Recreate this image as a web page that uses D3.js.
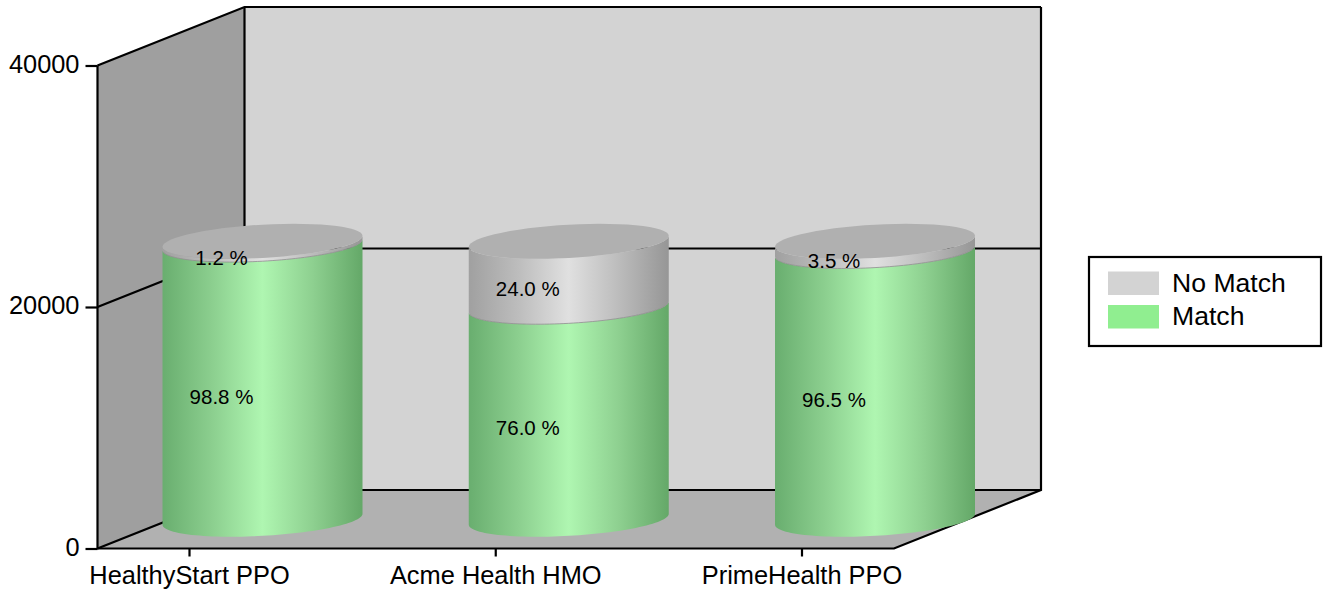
<!DOCTYPE html>
<html lang="en">

<head>
	<meta charset="utf-8">
	<title>Match by plan</title>

	<style type="text/css">
		html, body {
			margin: 0;
			background: #fff;
		}

		svg {
			display: block;
		}

		text {
			font-family: "Liberation Sans", Arial, sans-serif;
			fill: #000;
		}
	</style>
</head>

<body>
	<div id="content"></div>

	<script src="https://cdnjs.cloudflare.com/ajax/libs/d3/7.8.5/d3.min.js"></script>

	<script type="text/javascript">
		var plans = ["HealthyStart PPO", "Acme Health HMO", "PrimeHealth PPO"];
		var matchValues = [22745, 17600, 22215];
		var noMatchValues = [275, 5420, 805];
		var matchLabels = ["98.8 %", "76.0 %", "96.5 %"];
		var noMatchLabels = ["1.2 %", "24.0 %", "3.5 %"];
		var yTicks = [0, 20000, 40000];
		var legendNames = ["No Match", "Match"];

		var w = 1323, h = 594;

		// the box is drawn as an oblique projection, depth moves up and to the right
		var depthX = 147, depthY = -58.5;
		var left = 97.5, right = 894;
		var radius = 100, tilt = 5.5, squash = 16.6;

		var svg = d3.select("#content").append("svg")
			.attr("width", w)
			.attr("height", h);

		var y = d3.scaleLinear().domain([0, 40000]).range([548.5, 65.5]);
		var x = d3.scalePoint().domain(plans).range([189, 801.5]);

		// gradients for the cylinder sides
		var defs = svg.append("defs");

		function addGradient(id, stops) {
			var g = defs.append("linearGradient").attr("id", id);
			stops.forEach(function (s) {
				g.append("stop").attr("offset", s[0]).attr("stop-color", s[1]);
			});
		}

		addGradient("greenSide", [[0, "#69ae6f"], [0.25, "#8ccf8f"], [0.5, "#aff6b1"], [0.75, "#8ed090"], [1, "#64a868"]]);
		addGradient("graySide", [[0, "#a0a0a0"], [0.25, "#bdbdbd"], [0.5, "#e0e0e0"], [0.75, "#bcbcbc"], [1, "#969696"]]);

		// walls and floor
		var top40 = y(40000), base = y(0);
		var poly = d3.line();

		svg.append("path")
			.attr("d", poly([[left, top40], [left + depthX, top40 + depthY], [left + depthX, base + depthY], [left, base]]) + "Z")
			.attr("fill", "#9f9f9f");

		svg.append("path")
			.attr("d", poly([[left, base], [right, base], [right + depthX, base + depthY], [left + depthX, base + depthY]]) + "Z")
			.attr("fill", "#b1b1b1");

		svg.append("rect")
			.attr("x", left + depthX)
			.attr("y", top40 + depthY)
			.attr("width", right - left)
			.attr("height", base - top40)
			.attr("fill", "#d3d3d3");

		// grid lines run across the left wall and the back wall
		var grid = svg.append("g")
			.attr("fill", "none")
			.attr("stroke", "#000")
			.attr("stroke-width", 2.2);

		yTicks.forEach(function (t) {
			grid.append("path")
				.attr("d", poly([[left, y(t)], [left + depthX, y(t) + depthY], [right + depthX, y(t) + depthY]]));
		});

		grid.append("path")
			.attr("d", poly([[left, top40], [left, base], [right, base], [right + depthX, base + depthY], [right + depthX, top40 + depthY]]));
		grid.append("path")
			.attr("d", poly([[left + depthX, top40 + depthY], [left + depthX, base + depthY]]));

		// axes
		var yAxis = d3.axisLeft(y)
			.tickValues(yTicks)
			.tickFormat(d3.format("d"))
			.tickSize(12)
			.tickPadding(6);

		var xAxis = d3.axisBottom(x)
			.tickSize(8)
			.tickPadding(9);

		function styleAxis(g) {
			g.select(".domain").remove();
			g.selectAll("line").attr("stroke", "#000").attr("stroke-width", 2.2);
			g.selectAll("text").style("font-size", "25.4px").style("font-family", null);
		}

		svg.append("g")
			.attr("transform", "translate(" + left + ",0)")
			.call(yAxis)
			.call(styleAxis)
			.selectAll("text")
			.attr("dy", "0.27em");

		svg.append("g")
			.attr("transform", "translate(0," + base + ")")
			.call(xAxis)
			.call(styleAxis);

		// cylinders
		function ring(cx, cy, from, to) {
			return d3.range(0, 61).map(function (i) {
				var t = from + (to - from) * i / 60;
				return [cx + radius * Math.cos(t), cy - tilt * Math.cos(t) + squash * Math.sin(t)];
			});
		}

		function side(cx, y0, y1) {
			// front half of the lower ring, then back along the front of the upper ring
			return poly(ring(cx, y0, Math.PI, 0).concat(ring(cx, y1, 0, Math.PI))) + "Z";
		}

		var cylinders = svg.append("g");
		var labels = svg.append("g")
			.attr("text-anchor", "middle")
			.style("font-size", "20.5px");

		plans.forEach(function (plan, i) {
			var cx = x(plan) + depthX / 2;
			var y0 = y(0) + depthY / 2;
			var y1 = y(matchValues[i]) + depthY / 2;
			var y2 = y(matchValues[i] + noMatchValues[i]) + depthY / 2;

			cylinders.append("path")
				.attr("d", side(cx, y0, y1))
				.attr("fill", "url(#greenSide)");

			cylinders.append("path")
				.attr("d", side(cx, y1, y2))
				.attr("fill", "url(#graySide)");

			// thin darker edge where the two segments meet
			cylinders.append("path")
				.attr("d", poly(ring(cx, y1, 0.12, Math.PI - 0.12)))
				.attr("fill", "none")
				.attr("stroke", "#8f8f8f")
				.attr("stroke-width", 0.8);

			cylinders.append("path")
				.attr("d", poly(ring(cx, y2, 0, 2 * Math.PI)) + "Z")
				.attr("fill", "#b0b0b0");

			labels.append("text")
				.attr("x", cx - 41)
				.attr("y", (y0 + y1) / 2 + 15.5)
				.attr("dy", "0.3em")
				.text(matchLabels[i]);

			labels.append("text")
				.attr("x", cx - 41)
				.attr("y", (y1 + y2) / 2 + 15.5)
				.attr("dy", "0.3em")
				.text(noMatchLabels[i]);
		});

		// legend
		var legendColors = d3.scaleOrdinal().domain(legendNames).range(["#d3d3d3", "#90ee90"]);
		var legendY = d3.scalePoint().domain(legendNames).range([283, 316.5]);

		var legend = svg.append("g");

		legend.append("rect")
			.attr("x", 1089)
			.attr("y", 257)
			.attr("width", 232)
			.attr("height", 89)
			.attr("fill", "#fff")
			.attr("stroke", "#000")
			.attr("stroke-width", 2.2);

		legendNames.forEach(function (name) {
			legend.append("rect")
				.attr("x", 1108)
				.attr("y", legendY(name) - 11.5)
				.attr("width", 51)
				.attr("height", 23.5)
				.attr("fill", legendColors(name));

			legend.append("text")
				.attr("x", 1172)
				.attr("y", legendY(name))
				.attr("dy", "0.33em")
				.style("font-size", "26.6px")
				.text(name);
		});
	</script>
</body>

</html>
